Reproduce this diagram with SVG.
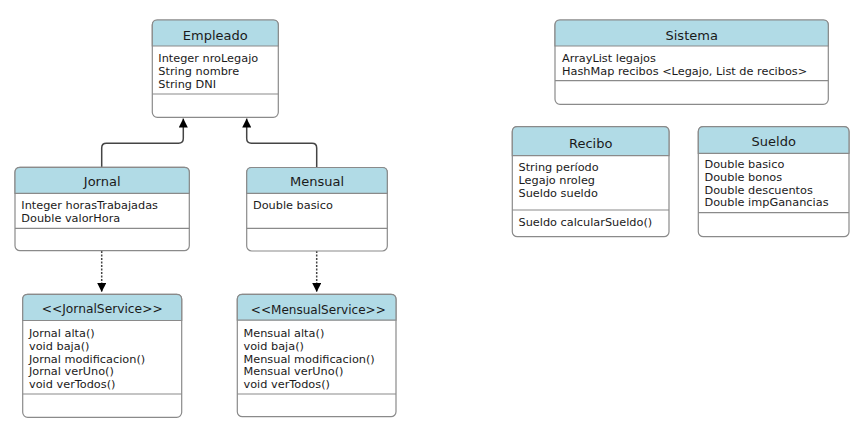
<svg xmlns="http://www.w3.org/2000/svg" width="867" height="431" viewBox="0 0 867 431">
<style>
.box{fill:#fff;stroke:#8a8a8a;stroke-width:1.2}
.hd{fill:#b1dbe6;stroke:#8a8a8a;stroke-width:1.2}
.sep{stroke:#8a8a8a;stroke-width:1.2}
.t{font-family:"DejaVu Sans",Verdana,sans-serif;font-size:13px;fill:#1a1a1a;text-anchor:middle}
.b{font-family:"DejaVu Sans",Verdana,sans-serif;font-size:11.3px;fill:#1a1a1a}
.c{fill:none;stroke:#444;stroke-width:1.5}
.d{fill:none;stroke:#444;stroke-width:1.5;stroke-dasharray:2,1.5}
</style>
<defs>
<marker id="ah" viewBox="0 0 10 10" refX="10" refY="5" markerWidth="9" markerHeight="9" markerUnits="userSpaceOnUse" orient="auto">
<path d="M0,0 L10,5 L0,10 z" fill="#000"/>
</marker>
</defs>
<rect width="867" height="431" fill="#fff"/>

<g id="connectors">
<path class="c" d="M101.7,167 V148 Q101.7,143.3 106.4,143.3 H178.6 Q183.3,143.3 183.3,138.6 V118.5" marker-end="url(#ah)"/>
<path class="c" d="M316.7,167.5 V148 Q316.7,143.3 312,143.3 H251.4 Q246.7,143.3 246.7,138.6 V118.5" marker-end="url(#ah)"/>
<path class="d" d="M101.7,251 V292" marker-end="url(#ah)"/>
<path class="d" d="M316.7,251 V292" marker-end="url(#ah)"/>
</g>

<g id="Empleado">
<rect class="box" x="152.3" y="20" width="126" height="97.3" rx="5"/>
<path class="hd" d="M152.3,46 V25 Q152.3,20 157.3,20 H273.3 Q278.3,20 278.3,25 V46 Z"/>
<line class="sep" x1="152.3" y1="94" x2="278.3" y2="94"/>
<text class="t" x="215.3" y="39.5">Empleado</text>
<text class="b" x="158.3" y="62">Integer nroLegajo</text>
<text class="b" x="158.3" y="74.8">String nombre</text>
<text class="b" x="158.3" y="87.6">String DNI</text>
</g>

<g id="Jornal">
<rect class="box" x="15" y="167.3" width="174.3" height="83.4" rx="5"/>
<path class="hd" d="M15,193.3 V172.3 Q15,167.3 20,167.3 H184.3 Q189.3,167.3 189.3,172.3 V193.3 Z"/>
<line class="sep" x1="15" y1="228.3" x2="189.3" y2="228.3"/>
<text class="t" x="102.2" y="186.2">Jornal</text>
<text class="b" x="21.3" y="209">Integer horasTrabajadas</text>
<text class="b" x="21.3" y="221.8">Double valorHora</text>
</g>

<g id="Mensual">
<rect class="box" x="246.7" y="167.5" width="140.6" height="83.5" rx="5"/>
<path class="hd" d="M246.7,193.3 V172.5 Q246.7,167.5 251.7,167.5 H382.3 Q387.3,167.5 387.3,172.5 V193.3 Z"/>
<line class="sep" x1="246.7" y1="228.3" x2="387.3" y2="228.3"/>
<text class="t" x="317" y="186.2">Mensual</text>
<text class="b" x="253" y="209">Double basico</text>
</g>

<g id="JornalService">
<rect class="box" x="22.7" y="294.3" width="159" height="123" rx="5"/>
<path class="hd" d="M22.7,320.5 V299.3 Q22.7,294.3 27.7,294.3 H176.7 Q181.7,294.3 181.7,299.3 V320.5 Z"/>
<line class="sep" x1="22.7" y1="394" x2="181.7" y2="394"/>
<text class="t" x="102.2" y="312.8" textLength="121" lengthAdjust="spacingAndGlyphs">&lt;&lt;JornalService&gt;&gt;</text>
<text class="b" x="29" y="337.3">Jornal alta()</text>
<text class="b" x="29" y="349.9">void baja()</text>
<text class="b" x="29" y="362.5">Jornal modificacion()</text>
<text class="b" x="29" y="375.1">Jornal verUno()</text>
<text class="b" x="29" y="387.7">void verTodos()</text>
</g>

<g id="MensualService">
<rect class="box" x="237.3" y="294.3" width="158.7" height="122.4" rx="5"/>
<path class="hd" d="M237.3,320.2 V299.3 Q237.3,294.3 242.3,294.3 H391 Q396,294.3 396,299.3 V320.2 Z"/>
<line class="sep" x1="237.3" y1="394" x2="396" y2="394"/>
<text class="t" x="318.3" y="313.5" textLength="135" lengthAdjust="spacingAndGlyphs">&lt;&lt;MensualService&gt;&gt;</text>
<text class="b" x="243.5" y="337.3">Mensual alta()</text>
<text class="b" x="243.5" y="349.9">void baja()</text>
<text class="b" x="243.5" y="362.5">Mensual modificacion()</text>
<text class="b" x="243.5" y="375.1">Mensual verUno()</text>
<text class="b" x="243.5" y="387.7">void verTodos()</text>
</g>

<g id="Sistema">
<rect class="box" x="555" y="20" width="273.3" height="84.3" rx="5"/>
<path class="hd" d="M555,46 V25 Q555,20 560,20 H823.3 Q828.3,20 828.3,25 V46 Z"/>
<line class="sep" x1="555" y1="80.7" x2="828.3" y2="80.7"/>
<text class="t" x="691.7" y="39.5">Sistema</text>
<text class="b" x="562" y="62.3">ArrayList legajos</text>
<text class="b" x="562" y="75">HashMap recibos &lt;Legajo, List de recibos&gt;</text>
</g>

<g id="Recibo">
<rect class="box" x="512.3" y="126.7" width="156.7" height="110" rx="5"/>
<path class="hd" d="M512.3,155.7 V131.7 Q512.3,126.7 517.3,126.7 H664 Q669,126.7 669,131.7 V155.7 Z"/>
<line class="sep" x1="512.3" y1="210" x2="669" y2="210"/>
<text class="t" x="590.7" y="147.8">Recibo</text>
<text class="b" x="518.5" y="171.3">String período</text>
<text class="b" x="518.5" y="184">Legajo nroleg</text>
<text class="b" x="518.5" y="196.7">Sueldo sueldo</text>
<text class="b" x="518.5" y="226.3">Sueldo calcularSueldo()</text>
</g>

<g id="Sueldo">
<rect class="box" x="698.3" y="126.7" width="150.7" height="110" rx="5"/>
<path class="hd" d="M698.3,153.3 V131.7 Q698.3,126.7 703.3,126.7 H844 Q849,126.7 849,131.7 V153.3 Z"/>
<line class="sep" x1="698.3" y1="212.7" x2="849" y2="212.7"/>
<text class="t" x="773.7" y="145.5">Sueldo</text>
<text class="b" x="704.5" y="168.3">Double basico</text>
<text class="b" x="704.5" y="181">Double bonos</text>
<text class="b" x="704.5" y="193.7">Double descuentos</text>
<text class="b" x="704.5" y="206.4">Double impGanancias</text>
</g>
</svg>
